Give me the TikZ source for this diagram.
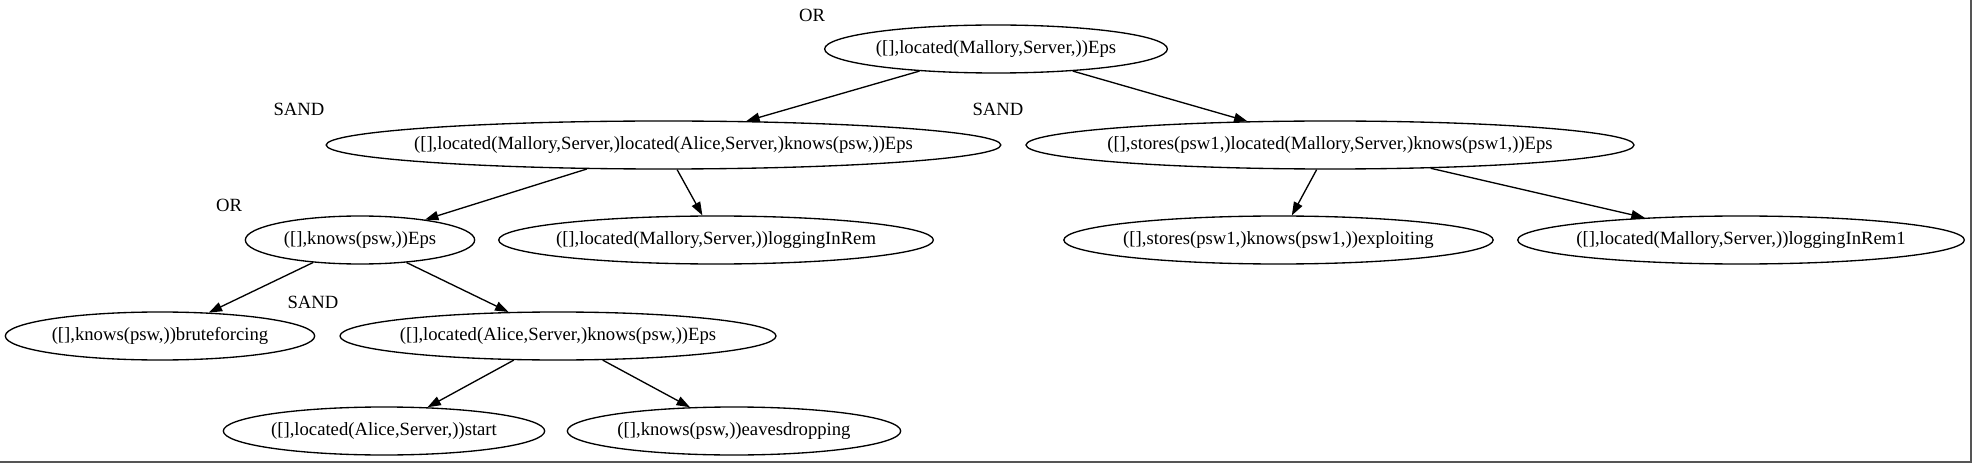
\documentclass[tikz,border=0pt]{standalone}
\usepackage{fontspec}
\setmainfont{Liberation Serif}
\usetikzlibrary{arrows.meta,shapes.geometric}
\definecolor{edgeblack}{HTML}{000000}
\definecolor{framegray}{HTML}{555555}

\begin{document}
\begin{tikzpicture}[
  x=0.75pt, y=-0.75pt,
  >={Triangle[length=10pt,width=7pt]},
  line width=1pt,
  goalnode/.style={ellipse, draw=edgeblack, minimum height=36pt, inner xsep=-30pt, inner ysep=0pt, font=\fontsize{14}{16}\selectfont},
  gatelabel/.style={font=\fontsize{14}{16}\selectfont, inner sep=0pt},
  treeedge/.style={->, draw=edgeblack, line width=1pt}
]
  \useasboundingbox (0,0) rectangle (1972,463);

  \node[goalnode, minimum width=257pt] (root) at (996,49) {([],located(Mallory,Server,))Eps};
  \node[goalnode, minimum width=506pt] (mlak) at (663.5,145) {([],located(Mallory,Server,)located(Alice,Server,)knows(psw,))Eps};
  \node[goalnode, minimum width=456pt] (slk) at (1330,145) {([],stores(psw1,)located(Mallory,Server,)knows(psw1,))Eps};
  \node[goalnode, minimum width=172pt] (kpsw) at (360,240) {([],knows(psw,))Eps};
  \node[goalnode, minimum width=326pt] (logrem) at (716,240) {([],located(Mallory,Server,))loggingInRem};
  \node[goalnode, minimum width=322pt] (exploit) at (1278.5,240) {([],stores(psw1,)knows(psw1,))exploiting};
  \node[goalnode, minimum width=335pt] (logrema) at (1741,240) {([],located(Mallory,Server,))loggingInRem1};
  \node[goalnode, minimum width=232pt] (brute) at (160,336) {([],knows(psw,))bruteforcing};
  \node[goalnode, minimum width=327pt] (lak) at (558,336) {([],located(Alice,Server,)knows(psw,))Eps};
  \node[goalnode, minimum width=241pt] (start) at (384,431) {([],located(Alice,Server,))start};
  \node[goalnode, minimum width=250pt] (eaves) at (734,431) {([],knows(psw,))eavesdropping};

  \node[gatelabel] (groot) at (812,15) {OR};
  \node[gatelabel] (gmlak) at (299,109) {SAND};
  \node[gatelabel] (gslk) at (998,109) {SAND};
  \node[gatelabel] (gkpsw) at (229,205) {OR};
  \node[gatelabel] (glak) at (313,302) {SAND};

  \draw[treeedge] (root) -- (mlak);
  \draw[treeedge] (root) -- (slk);
  \draw[treeedge] (mlak) -- (kpsw);
  \draw[treeedge] (mlak) -- (logrem);
  \draw[treeedge] (slk) -- (exploit);
  \draw[treeedge] (slk) -- (logrema);
  \draw[treeedge] (kpsw) -- (brute);
  \draw[treeedge] (kpsw) -- (lak);
  \draw[treeedge] (lak) -- (start);
  \draw[treeedge] (lak) -- (eaves);

  \draw[framegray, line width=1.5pt] (1971,0) -- (1971,462) -- (0,462);
\end{tikzpicture}
\end{document}
